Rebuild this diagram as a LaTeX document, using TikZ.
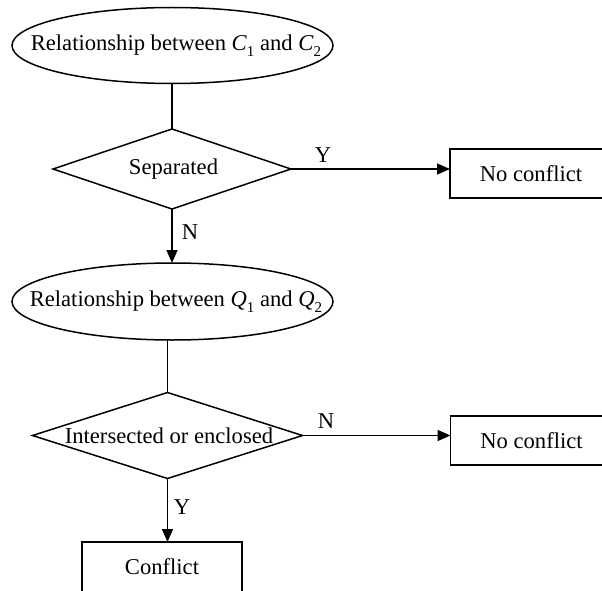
\documentclass[tikz,border=0pt]{standalone}
\usepackage{fontspec}
\setmainfont{Liberation Serif}
\usetikzlibrary{shapes.geometric,arrows.meta}

% italic variable with an upright, lowered index
\newcommand{\varidx}[2]{\textit{#1}\raisebox{-0.28em}{\fontsize{15}{15}\selectfont #2}}

\begin{document}
\begin{tikzpicture}[x=1pt,y=-1pt,
  font=\fontsize{22.6}{27}\selectfont,
  line width=1.5pt,
  every node/.style={inner sep=0pt, outer sep=0pt},
  oval/.style={draw, ellipse, minimum width=321pt, minimum height=76pt},
  decision/.style={draw, diamond, aspect=3},
  outcome/.style={draw, rectangle, minimum width=162pt, minimum height=49pt},
  flow/.style={-{Triangle[length=13pt,width=11pt]}},
  lbl/.style={font=\fontsize{22.6}{27}\selectfont}
]
\useasboundingbox (0,0) rectangle (602,591);
\clip (0,0) rectangle (602,591);

% relation of the two C regions
\node[oval] (e1) at (172.5,45.5)
  {\makebox[0pt]{\hspace{7pt}Relationship between \varidx{C}{1} and \varidx{C}{2}}};
\node[decision, minimum width=238pt, minimum height=80pt] (d1) at (172,169)
  {\makebox[0pt]{\hspace{3pt}Separated}};
\node[outcome] (b1) at (531,173.5) {No conflict};

% relation of the two Q regions
\node[oval, minimum height=77pt] (e2) at (172.5,301.5)
  {\makebox[0pt]{\hspace{7pt}Relationship between \varidx{Q}{1} and \varidx{Q}{2}}};
\node[decision, minimum width=270pt, minimum height=86pt] (d2) at (167.5,435.5)
  {\makebox[0pt]{\hspace{3pt}Intersected or enclosed}};
\node[outcome] (b2) at (531.5,440.5) {No conflict};
\node[outcome, minimum width=160pt, minimum height=50pt] (c) at (162,567) {Conflict};

% connectors
\draw (d1.north |- e1.south) -- (d1.north);
\draw[flow] (d1.east) -- (b1.west |- d1.east);
\node[lbl] (ly1) at (323,155) {Y};
\draw[flow] (d1.south) -- (d1.south |- e2.north);
\node[lbl] (ln1) at (190,232) {N};

\draw (d2.north |- e2.south) -- (d2.north);
\draw[flow] (d2.east) -- (b2.west |- d2.east);
\node[lbl] (ln2) at (326,421) {N};
\draw[flow] (d2.south) -- (d2.south |- c.north);
\node[lbl] (ly2) at (182,507) {Y};
\end{tikzpicture}
\end{document}
